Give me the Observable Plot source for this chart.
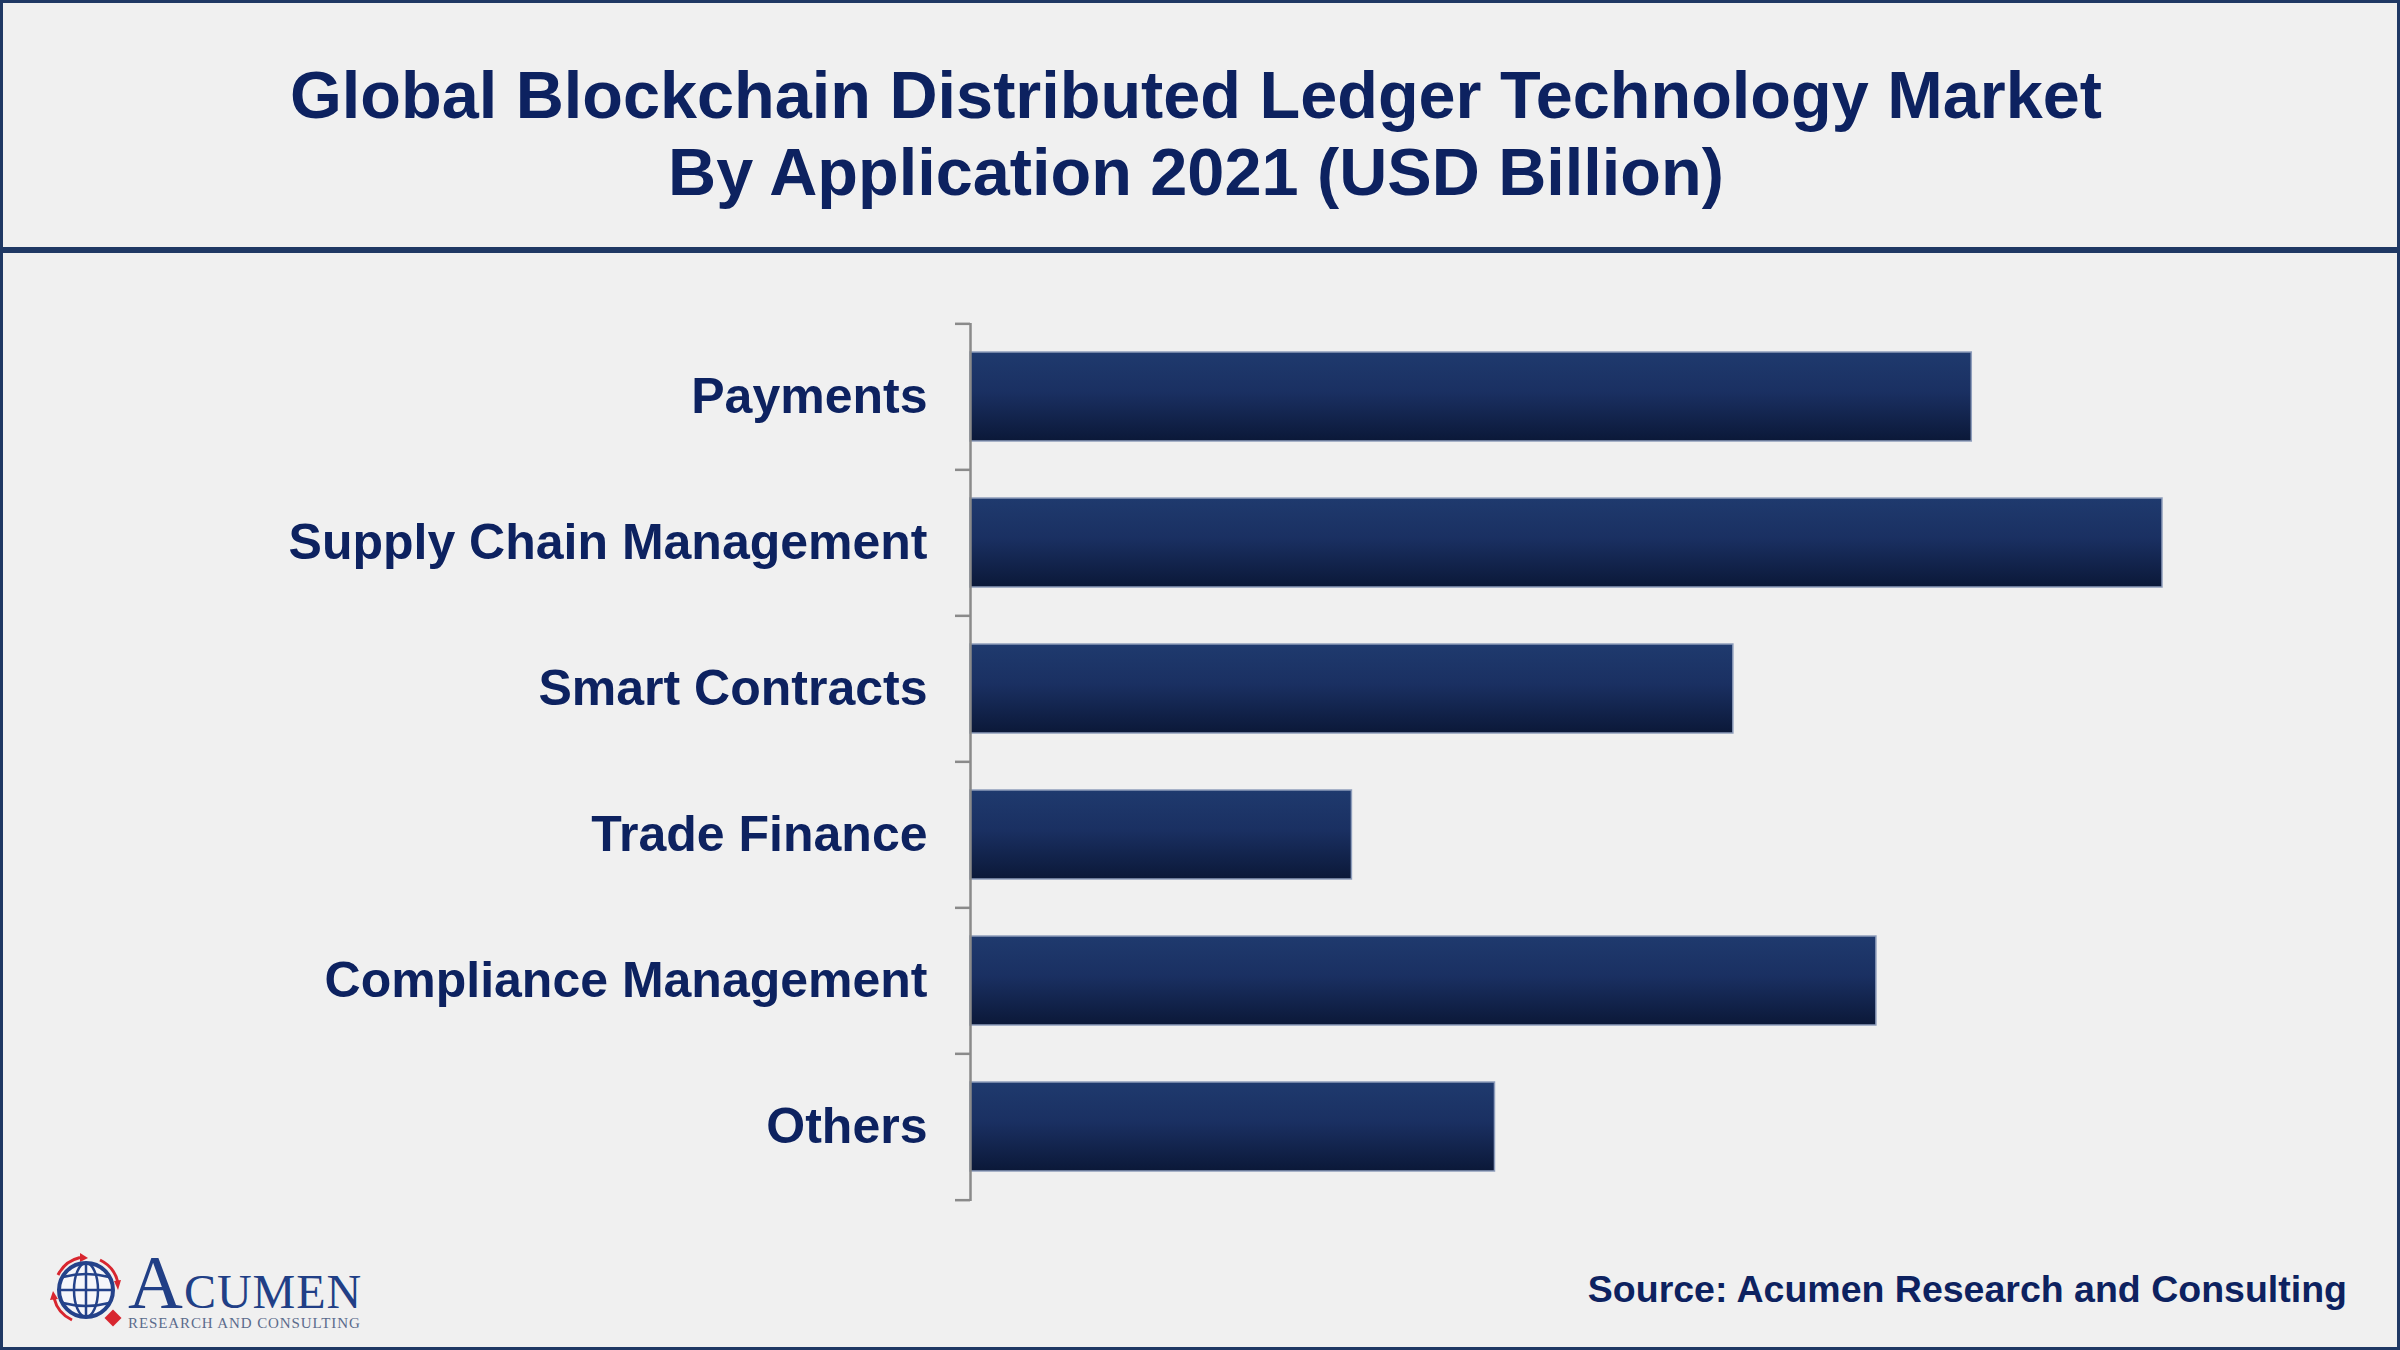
<!DOCTYPE html>
<html>
<head>
<meta charset="utf-8">
<script src="https://cdn.jsdelivr.net/npm/d3@7"></script>
<script src="https://cdn.jsdelivr.net/npm/@observablehq/plot@0.6"></script>
<style>
  html, body { margin: 0; padding: 0; background: #f0f0f0; }
  #frame { position: relative; width: 2400px; height: 1350px; background: #f0f0f0; overflow: hidden;
           font-family: "Liberation Sans", Arial, sans-serif; }
  #border { position: absolute; left: 0; top: 0; width: 2400px; height: 1350px; box-sizing: border-box;
            border: 3px solid #1f3864; pointer-events: none; z-index: 5; }
  #title { position: absolute; left: 0; top: 57px; width: 2392px; text-align: center; font-weight: bold;
           font-size: 66.6px; line-height: 77px; color: #0d2260; z-index: 2; }
  #divider { position: absolute; left: 0; top: 247px; width: 2400px; height: 6px; background: #1f3864; z-index: 2; }
  #chart { position: absolute; left: 0; top: 0; z-index: 1; }
  #source { position: absolute; right: 53px; top: 1271px; font-weight: bold; font-size: 37.5px; line-height: 36px;
            color: #0d2260; z-index: 2; white-space: nowrap; }
  #logo { position: absolute; left: 0; top: 1240px; z-index: 2; }
</style>
</head>
<body>
<div id="frame">
  <div id="title">Global Blockchain Distributed Ledger Technology Market<br>By Application 2021 (USD Billion)</div>
  <div id="divider"></div>
  <div id="chart"></div>
  <div id="source">Source: Acumen Research and Consulting</div>
  <svg id="logo" width="400" height="110" viewBox="0 1240 400 110">
    <g fill="none" stroke="#d8262f" stroke-width="3">
      <path d="M 58 1275 A 33 33 0 0 1 80 1257.5"/>
      <path d="M 100 1260 A 33 33 0 0 1 118 1283"/>
      <path d="M 72 1320 A 33 33 0 0 1 54 1298"/>
    </g>
    <g fill="#d8262f">
      <path d="M 80 1253 L 88 1258 L 80 1262 Z"/>
      <path d="M 121 1280 L 118 1290 L 114 1281 Z"/>
      <path d="M 50 1300 L 53 1291 L 58 1299 Z"/>
      <rect x="107" y="1312" width="12" height="12" transform="rotate(45 113 1318)"/>
    </g>
    <g fill="none" stroke="#24428a">
      <circle cx="86" cy="1290" r="27" stroke-width="4" fill="#f6f6fa"/>
      <ellipse cx="86" cy="1290" rx="12" ry="27" stroke-width="2.5"/>
      <line x1="86" y1="1263" x2="86" y2="1317" stroke-width="2.5"/>
      <line x1="59" y1="1290" x2="113" y2="1290" stroke-width="2.5"/>
      <path d="M 63 1277 Q 86 1271 109 1277" stroke-width="2.5"/>
      <path d="M 63 1303 Q 86 1309 109 1303" stroke-width="2.5"/>
    </g>
    <text x="128" y="1308" font-family="Liberation Serif, Times New Roman, serif" fill="#213f86" letter-spacing="1"><tspan font-size="76">A</tspan><tspan font-size="48">CUMEN</tspan></text>
    <text x="128" y="1328" font-family="Liberation Serif, Times New Roman, serif" font-size="15" fill="#5b6b8c" letter-spacing="0.9">RESEARCH AND CONSULTING</text>
  </svg>
  <div id="border"></div>
</div>
<script>
const categories = ["Payments", "Supply Chain Management", "Smart Contracts", "Trade Finance", "Compliance Management", "Others"];
const values = [0.84, 1.00, 0.64, 0.32, 0.76, 0.44];
const xMax = 1.00;

const data = categories.map((c, i) => ({category: c, value: values[i]}));

const W = 2400, H = 1350;
const mTop = 323, mBottom = 149, mLeft = 970, mRight = 238;
const padInner = 0.39, padOuter = padInner / 2;
const step = (H - mTop - mBottom) / (categories.length - padInner + 2 * padOuter);

const gradientDefs = () => {
  const defs = d3.create("svg:defs");
  const g = defs.append("linearGradient").attr("id", "barGrad")
    .attr("x1", 0).attr("y1", 0).attr("x2", 0).attr("y2", 1);
  g.append("stop").attr("offset", "0%").attr("stop-color", "#1f3a6e");
  g.append("stop").attr("offset", "45%").attr("stop-color", "#1a3062");
  g.append("stop").attr("offset", "100%").attr("stop-color", "#0b1838");
  return defs.node();
};

const chart = Plot.plot({
  width: W,
  height: H,
  marginTop: mTop,
  marginBottom: mBottom,
  marginLeft: mLeft,
  marginRight: mRight,
  style: {background: "transparent", fontFamily: "Liberation Sans, Arial, sans-serif", overflow: "visible"},
  x: {domain: [0, xMax], axis: null},
  y: {domain: categories, paddingInner: padInner, paddingOuter: padOuter, axis: null},
  marks: [
    gradientDefs,
    Plot.barX(data, {x: "value", y: "category", fill: "url(#barGrad)", stroke: "#8e9dbb", strokeWidth: 1.5}),
    Plot.ruleX([0], {stroke: "#8a8a8a", strokeWidth: 2.5}),
    Plot.axisY({ticks: categories, tickSize: 15, fill: "none", stroke: "#8a8a8a", strokeWidth: 2.5, dy: -step / 2, label: null}),
    Plot.axisY({ticks: categories.slice(-1), tickSize: 15, fill: "none", stroke: "#8a8a8a", strokeWidth: 2.5, dy: step / 2, label: null}),
    Plot.axisY({ticks: categories, tickSize: 0, tickPadding: 43, fontSize: 50, fontWeight: "bold", fill: "#0d2260", label: null})
  ]
});
document.getElementById("chart").appendChild(chart);
</script>
</body>
</html>
